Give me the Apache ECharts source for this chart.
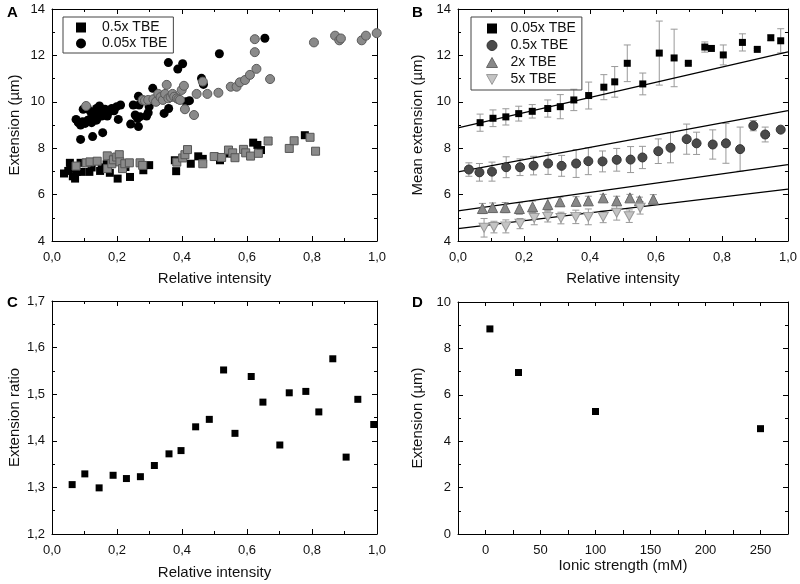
<!DOCTYPE html>
<html><head><meta charset="utf-8">
<script src="https://cdn.jsdelivr.net/npm/echarts@6/dist/echarts.min.js"></script>
<style>html,body{margin:0;padding:0;background:#fff}#c{width:800px;height:584px}</style>
</head><body><div id="c"></div>
<script>
// ---------- Panel A data: [relative intensity, extension µm] ----------
const aSqBlack = [[0.037,6.91],[0.050,7.02],[0.055,7.37],[0.057,7.12],[0.064,6.79],[0.071,6.69],[0.076,6.98],[0.088,7.37],[0.091,6.98],[0.115,6.98],[0.122,7.17],[0.148,7.02],[0.153,7.17],[0.168,7.31],[0.178,6.94],[0.202,6.69],[0.226,7.19],[0.240,6.76],[0.281,7.05],[0.299,7.27],[0.378,7.48],[0.382,7.01],[0.427,7.33],[0.450,7.65],[0.464,7.54],[0.517,7.48],[0.547,7.77],[0.619,8.24],[0.632,8.14],[0.643,7.92],[0.778,8.56]];
const aSqGray = [[0.074,7.23],[0.105,7.37],[0.117,7.41],[0.139,7.44],[0.170,7.67],[0.171,7.12],[0.184,7.33],[0.189,7.50],[0.199,7.62],[0.207,7.72],[0.209,7.41],[0.217,7.12],[0.224,7.33],[0.238,7.37],[0.271,7.37],[0.279,7.26],[0.384,7.40],[0.402,7.58],[0.409,7.72],[0.417,7.94],[0.464,7.33],[0.499,7.64],[0.522,7.60],[0.543,7.92],[0.556,7.80],[0.563,7.59],[0.589,7.95],[0.596,7.80],[0.611,7.66],[0.635,7.78],[0.665,8.31],[0.730,7.99],[0.745,8.32],[0.794,8.47],[0.811,7.87]];
const aCirBlack = [[0.088,8.38],[0.125,8.50],[0.156,8.67],[0.074,9.24],[0.081,9.10],[0.088,9.00],[0.094,9.14],[0.102,9.07],[0.109,9.19],[0.115,9.24],[0.122,9.10],[0.127,9.28],[0.132,9.36],[0.137,9.21],[0.143,9.43],[0.148,9.57],[0.153,9.39],[0.158,9.50],[0.163,9.68],[0.170,9.39],[0.176,9.57],[0.184,9.71],[0.191,9.61],[0.199,9.79],[0.204,9.24],[0.211,9.86],[0.096,9.68],[0.109,9.71],[0.119,9.57],[0.137,9.71],[0.146,9.82],[0.250,9.86],[0.242,9.04],[0.266,8.93],[0.256,9.43],[0.263,9.28],[0.271,9.36],[0.268,9.86],[0.291,9.39],[0.296,9.53],[0.299,9.79],[0.266,10.24],[0.345,9.50],[0.359,9.71],[0.412,10.00],[0.423,10.05],[0.310,10.58],[0.358,11.69],[0.387,11.41],[0.402,11.64],[0.460,11.01],[0.466,10.75],[0.515,12.07],[0.655,12.74]];
const aCirGray = [[0.105,9.82],[0.279,10.08],[0.286,10.05],[0.296,10.08],[0.312,10.11],[0.320,10.00],[0.327,10.34],[0.334,10.20],[0.341,10.08],[0.348,10.34],[0.353,10.73],[0.358,10.15],[0.365,10.20],[0.371,10.34],[0.376,10.22],[0.384,10.15],[0.389,10.11],[0.394,10.08],[0.399,10.51],[0.406,10.69],[0.409,9.68],[0.437,9.43],[0.445,10.34],[0.464,10.87],[0.478,10.34],[0.512,10.39],[0.550,10.65],[0.568,10.65],[0.578,10.84],[0.594,10.94],[0.609,11.16],[0.629,11.42],[0.624,12.14],[0.624,12.70],[0.671,10.98],[0.806,12.56],[0.871,12.85],[0.884,12.65],[0.889,12.73],[0.953,12.65],[0.966,12.85],[0.999,12.96]];

// ---------- Panel B data: [relative intensity, mean extension, error] ----------
const b005 = [[0.067,9.10,0.37],[0.106,9.29,0.36],[0.145,9.35,0.35],[0.184,9.49,0.32],[0.225,9.59,0.29],[0.272,9.71,0.37],[0.310,9.79,0.52],[0.351,10.08,0.46],[0.396,10.27,0.58],[0.442,10.63,0.54],[0.475,10.86,0.66],[0.513,11.66,0.79],[0.560,10.77,0.47],[0.610,12.10,1.38],[0.655,11.89,1.24],[0.698,11.66,0.05],[0.748,12.36,0.22],[0.768,12.30,0.05],[0.804,12.02,0.43],[0.862,12.56,0.37],[0.907,12.26,0.05],[0.948,12.76,0.12],[0.978,12.63,0.52]];
const b05 = [[0.033,7.08,0.29],[0.065,6.96,0.38],[0.103,6.99,0.41],[0.146,7.18,0.45],[0.188,7.18,0.36],[0.229,7.25,0.40],[0.273,7.34,0.47],[0.314,7.24,0.45],[0.358,7.34,0.60],[0.395,7.44,0.58],[0.438,7.43,0.45],[0.481,7.50,0.49],[0.523,7.51,0.56],[0.559,7.60,0.48],[0.607,7.87,0.53],[0.644,8.02,0.65],[0.693,8.39,0.65],[0.723,8.21,0.48],[0.772,8.16,0.63],[0.812,8.21,0.86],[0.855,7.96,0.95],[0.895,8.97,0.22],[0.931,8.59,0.32],[0.978,8.80,0.05]];
const b2 = [[0.074,5.40,0.22],[0.105,5.44,0.20],[0.143,5.44,0.22],[0.186,5.40,0.25],[0.226,5.47,0.25],[0.272,5.57,0.25],[0.309,5.69,0.20],[0.358,5.71,0.20],[0.395,5.73,0.20],[0.440,5.86,0.15],[0.481,5.73,0.20],[0.521,5.86,0.15],[0.550,5.74,0.15],[0.592,5.80,0.20]];
const b5 = [[0.079,4.57,0.40],[0.109,4.60,0.25],[0.145,4.63,0.28],[0.188,4.75,0.22],[0.231,4.99,0.29],[0.272,5.04,0.22],[0.312,4.99,0.25],[0.357,5.04,0.29],[0.395,5.04,0.34],[0.440,5.04,0.25],[0.481,5.22,0.32],[0.519,5.07,0.27],[0.552,5.43,0.27]];
// fitted lines: value at intensity 0 and at 1
const bFit005 = [[0,8.88],[1,12.15]];
const bFit05 = [[0,6.98],[1,9.62]];
const bFit2 = [[0,5.30],[1,7.29]];
const bFit5 = [[0,4.53],[1,6.24]];

// ---------- Panel C data: [relative intensity, extension ratio] ----------
const cRatio = [[0.062,1.306],[0.101,1.329],[0.145,1.299],[0.188,1.326],[0.229,1.319],[0.272,1.323],[0.315,1.347],[0.360,1.372],[0.397,1.379],[0.442,1.430],[0.484,1.446],[0.528,1.552],[0.563,1.416],[0.613,1.538],[0.649,1.483],[0.701,1.391],[0.730,1.503],[0.781,1.506],[0.821,1.462],[0.864,1.576],[0.905,1.365],[0.941,1.489],[0.990,1.435]];

// ---------- Panel D data: [ionic strength mM, extension µm] ----------
const dIonic = [[4,8.84],[30,6.96],[100,5.28],[250,4.54]];

const FONT = '"Liberation Sans", Arial, sans-serif';
const fmt1 = v => (Math.round(v*100)/100).toFixed(1).replace('.', ',');
const fmtInt = v => String(Math.round(v));

function xAxes(gi, min, max, interval, fmt, name, nameGap, minor, tickLen) {
  const base = {type:'value', gridIndex:gi, min:min, max:max, interval:interval,
    splitLine:{show:false},
    axisLine:{onZero:false, lineStyle:{color:'#000', width:1}},
    axisTick:{inside:true, length:tickLen||5, lineStyle:{color:'#000', width:1}},
    minorTick:{show:!!minor, splitNumber:minor||2, length:3, lineStyle:{color:'#000', width:1}},
    minorSplitLine:{show:false}};
  return [
    Object.assign({}, base, {position:'bottom', name:name, nameLocation:'middle', nameGap:nameGap,
      nameTextStyle:{fontSize:15, color:'#111', fontFamily:FONT},
      axisLabel:{formatter:fmt, fontSize:13, color:'#111', fontFamily:FONT, margin:10}}),
    Object.assign({}, base, {position:'top', axisLabel:{show:false}})
  ];
}
function yAxes(gi, min, max, interval, fmt, name, nameGap, minor) {
  const base = {type:'value', gridIndex:gi, min:min, max:max, interval:interval,
    splitLine:{show:false},
    axisLine:{onZero:false, lineStyle:{color:'#000', width:1}},
    axisTick:{inside:true, length:5, lineStyle:{color:'#000', width:1}},
    minorTick:{show:!!minor, splitNumber:minor||2, length:3, lineStyle:{color:'#000', width:1}},
    minorSplitLine:{show:false}};
  return [
    Object.assign({}, base, {position:'left', name:name, nameLocation:'middle', nameGap:nameGap,
      nameTextStyle:{fontSize:15, color:'#111', fontFamily:FONT},
      axisLabel:{formatter:fmt, fontSize:13, color:'#111', fontFamily:FONT, margin:7}}),
    Object.assign({}, base, {position:'right', axisLabel:{show:false}})
  ];
}

const xAxis = [].concat(
  xAxes(0, 0, 1, 0.2, fmt1, 'Relative intensity', 30, 2),
  xAxes(1, 0, 1, 0.2, fmt1, 'Relative intensity', 30, 2),
  xAxes(2, 0, 1, 0.2, fmt1, 'Relative intensity', 31, 2),
  xAxes(3, -25, 275, 25, v => (Math.round(v) % 50 === 0 ? String(Math.round(v)) : ''), 'Ionic strength (mM)', 23, 0, 4)
);
const yAxis = [].concat(
  yAxes(0, 4, 14, 2, fmtInt, 'Extension (µm)', 30, 2),
  yAxes(1, 4, 14, 2, fmtInt, 'Mean extension (µm)', 33, 2),
  yAxes(2, 1.2, 1.7, 0.1, fmt1, 'Extension ratio', 30, 2),
  yAxes(3, 0, 10, 2, fmtInt, 'Extension (µm)', 33, 2)
);
// axis indices: grid g -> bottom x = 2g, left y = 2g

function errBars(data, xi, yi, color) {
  return {type:'custom', xAxisIndex:xi, yAxisIndex:yi, data:data, z:2, silent:true,
    encode:{x:0, y:1},
    renderItem: function(params, api) {
      const x = api.value(0), y = api.value(1), e = api.value(2);
      const t = api.coord([x, y + e]), b = api.coord([x, y - e]);
      const hw = 3.5, st = {stroke:color, lineWidth:1};
      return {type:'group', children:[
        {type:'line', shape:{x1:t[0], y1:t[1], x2:b[0], y2:b[1]}, style:st},
        {type:'line', shape:{x1:t[0]-hw, y1:t[1], x2:t[0]+hw, y2:t[1]}, style:st},
        {type:'line', shape:{x1:b[0]-hw, y1:b[1], x2:b[0]+hw, y2:b[1]}, style:st}
      ]};
    }};
}
function scat(name, data, xi, yi, symbol, size, color, border, z) {
  return {type:'scatter', name:name, xAxisIndex:xi, yAxisIndex:yi, data:data.map(d => [d[0], d[1]]),
    symbol:symbol, symbolSize:size, z:z||3,
    itemStyle:{color:color, borderColor:border, borderWidth:border ? 1 : 0, opacity:1}};
}
function fitLine(data) {
  return {type:'line', xAxisIndex:2, yAxisIndex:2, data:data, symbol:'none', z:2, silent:true,
    lineStyle:{color:'#000', width:1.3}};
}
const INV_TRI = 'path://M0,0 L10,0 L5,9 Z';

const series = [
  scat('0.5x TBE', aSqBlack, 0, 0, 'rect', 8, '#000', null),
  scat('0.05x TBE', aCirBlack, 0, 0, 'circle', 9, '#000', null),
  scat('0.5x TBE (set 2)', aSqGray, 0, 0, 'rect', 8, '#8a8a8a', '#555', 4),
  scat('0.05x TBE (set 2)', aCirGray, 0, 0, 'circle', 9, '#8a8a8a', '#5a5a5a', 4),

  errBars(b005, 2, 2, '#999'), errBars(b05, 2, 2, '#999'),
  errBars(b2, 2, 2, '#999'), errBars(b5, 2, 2, '#999'),
  fitLine(bFit005), fitLine(bFit05), fitLine(bFit2), fitLine(bFit5),
  scat('0.05x TBE', b005, 2, 2, 'rect', 7, '#000', null, 5),
  scat('0.5x TBE', b05, 2, 2, 'circle', 9, '#4a4a4a', '#333', 5),
  scat('2x TBE', b2, 2, 2, 'triangle', 10, '#888', '#666', 5),
  scat('5x TBE', b5, 2, 2, INV_TRI, [10, 9], '#c4c4c4', '#999', 5),

  scat('Extension ratio', cRatio, 4, 4, 'rect', 7, '#000', null),
  scat('Extension', dIonic, 6, 6, 'rect', 7, '#000', null)
];

const legendTextA = {fontSize:14, color:'#111', fontFamily:FONT, lineHeight:15, padding:[0,0,0,11]};
const legendTextB = {fontSize:14, color:'#111', fontFamily:FONT, lineHeight:15, padding:[0,0,0,8]};
const option = {
  animation:false,
  backgroundColor:'#fff',
  grid:[
    {left:52, top:9, width:325, height:232},
    {left:458, top:9, width:330, height:232},
    {left:52, top:301, width:325, height:233},
    {left:458, top:302, width:330, height:232}
  ],
  xAxis:xAxis, yAxis:yAxis,
  legend:[
    {left:63, top:17, orient:'vertical', selectedMode:false, itemWidth:10, itemHeight:10, itemGap:1,
     padding:[3,6,2,13], borderColor:'#444', borderWidth:1, textStyle:legendTextA,
     data:[{name:'0.5x TBE', icon:'rect', itemStyle:{color:'#000', borderWidth:0}},
           {name:'0.05x TBE', icon:'circle', itemStyle:{color:'#000', borderWidth:0}}]},
    {left:471, top:17, orient:'vertical', selectedMode:false, itemWidth:11, itemHeight:10, itemGap:2,
     padding:[4,6,3,15], borderColor:'#444', borderWidth:1, textStyle:legendTextB,
     data:[{name:'0.05x TBE', icon:'path://M0,0h10v10h-10z', itemStyle:{color:'#000', borderWidth:0}},
           {name:'0.5x TBE', icon:'circle', itemStyle:{color:'#4a4a4a', borderColor:'#333', borderWidth:1}},
           {name:'2x TBE', icon:'triangle', itemStyle:{color:'#888', borderColor:'#666', borderWidth:1}},
           {name:'5x TBE', icon:INV_TRI, itemStyle:{color:'#c4c4c4', borderColor:'#999', borderWidth:1}}]}
  ],
  graphic:[
    {type:'text', left:7, top:5, style:{text:'A', font:'bold 15px "Liberation Sans", Arial', fill:'#000'}},
    {type:'text', left:412, top:5, style:{text:'B', font:'bold 15px "Liberation Sans", Arial', fill:'#000'}},
    {type:'text', left:7, top:295, style:{text:'C', font:'bold 15px "Liberation Sans", Arial', fill:'#000'}},
    {type:'text', left:412, top:295, style:{text:'D', font:'bold 15px "Liberation Sans", Arial', fill:'#000'}}
  ],
  series:series
};
const chart = echarts.init(document.getElementById('c'), null, {renderer:'canvas'});
chart.setOption(option);
</script>
</body></html>
